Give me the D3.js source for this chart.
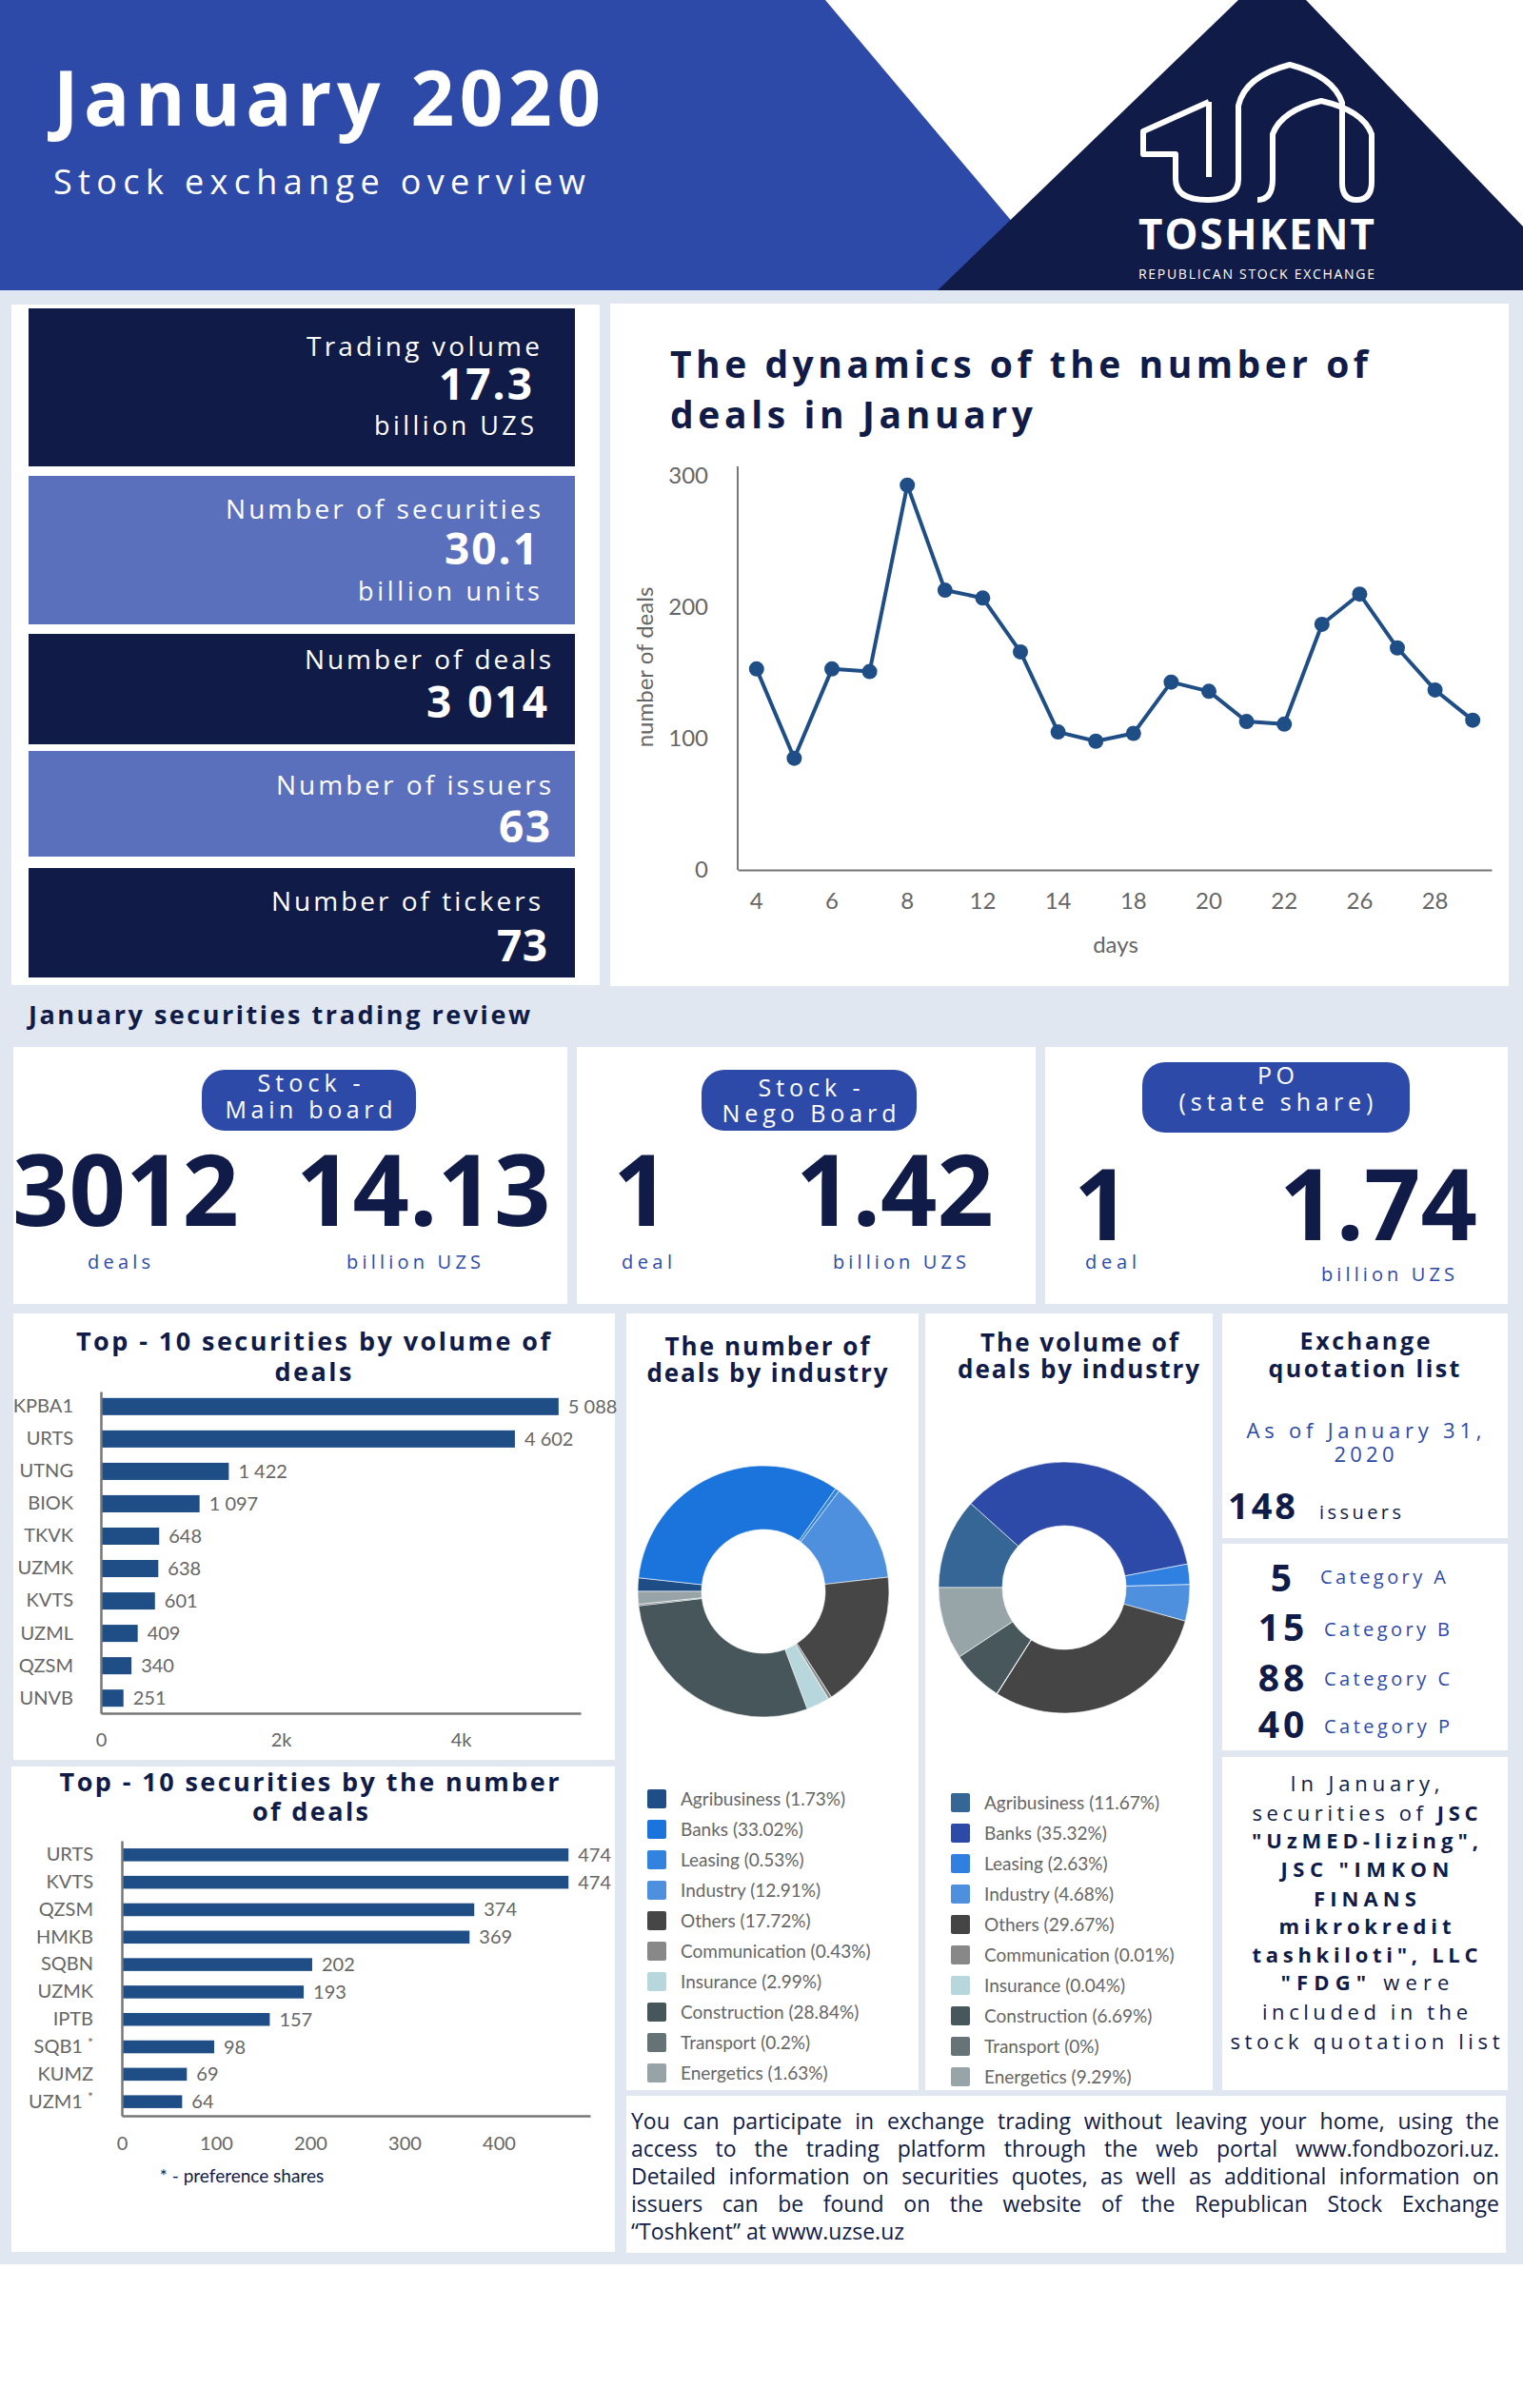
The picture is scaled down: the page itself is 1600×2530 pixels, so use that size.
<!DOCTYPE html>
<html>
<head>
<meta charset="utf-8">
<script src="https://cdn.jsdelivr.net/npm/d3@7"></script>
<style>
  html, body { margin: 0; padding: 0; background: #ffffff; }
  svg { display: block; }
</style>
</head>
<body>
<script>
// ---------------- DATA ----------------
const kpiLabels = ["Trading volume", "Number of securities", "Number of deals", "Number of issuers", "Number of tickers"];
const kpiValues = ["17.3", "30.1", "3 014", "63", "73"];
const kpiUnits = ["billion UZS", "billion units", "", "", ""];

const days = [4, 5, 6, 7, 8, 10, 12, 13, 14, 15, 18, 19, 20, 21, 22, 24, 26, 27, 28, 29];
const dealsPerDay = [153, 85, 153, 151, 293, 213, 207, 166, 105, 98, 104, 143, 136, 113, 111, 187, 210, 169, 137, 114];
const dealTicks = [0, 100, 200, 300];

const boardNames = [["Stock -", "Main board"], ["Stock -", "Nego Board"], ["PO", "(state share)"]];
const boardDeals = ["3012", "1", "1"];
const boardVolumes = ["14.13", "1.42", "1.74"];
const boardDealUnits = ["deals", "deal", "deal"];
const boardVolumeUnit = "billion UZS";

const volTickers = ["KPBA1", "URTS", "UTNG", "BIOK", "TKVK", "UZMK", "KVTS", "UZML", "QZSM", "UNVB"];
const volValues = [5088, 4602, 1422, 1097, 648, 638, 601, 409, 340, 251];
const volTicks = [0, 2000, 4000];

const dealTickers = ["URTS", "KVTS", "QZSM", "HMKB", "SQBN", "UZMK", "IPTB", "SQB1 *", "KUMZ", "UZM1 *"];
const dealCounts = [474, 474, 374, 369, 202, 193, 157, 98, 69, 64];
const dealCountTicks = [0, 100, 200, 300, 400];

const industries = ["Agribusiness", "Banks", "Leasing", "Industry", "Others", "Communication", "Insurance", "Construction", "Transport", "Energetics"];
const dealShares = [1.73, 33.02, 0.53, 12.91, 17.72, 0.43, 2.99, 28.84, 0.2, 1.63];
const volumeShares = [11.67, 35.32, 2.63, 4.68, 29.67, 0.01, 0.04, 6.69, 0, 9.29];
const dealColors = ["#1f4e87", "#1b74db", "#3282e0", "#4f90de", "#464646", "#888888", "#b7d7dc", "#47565a", "#657377", "#97a3a6"];
const volumeColors = ["#366696", "#2d4aa8", "#2f80e0", "#4f90de", "#454545", "#888888", "#b7d7dc", "#48575b", "#667477", "#98a5a8"];

const quoteIssuers = "148";
const quoteCategories = ["A", "B", "C", "P"];
const quoteCounts = ["5", "15", "88", "40"];
const quoteNote = [
  [["In January,", 0]],
  [["securities of ", 0], ["JSC", 1]],
  [["\"UzMED-lizing\",", 1]],
  [["JSC \"IMKON", 1]],
  [["FINANS", 1]],
  [["mikrokredit", 1]],
  [["tashkiloti\", LLC", 1]],
  [["\"FDG\"", 1], [" were", 0]],
  [["included in the", 0]],
  [["stock quotation list", 0]]
];
const paragraph = [
  "You can participate in exchange trading without leaving your home, using the",
  "access to the trading platform through the web portal www.fondbozori.uz.",
  "Detailed information on securities quotes, as well as additional information on",
  "issuers can be found on the website of the Republican Stock Exchange",
  "\u201cToshkent\u201d at www.uzse.uz"
];

// ---------------- STYLE ----------------
const NAVY = "#101b47", BLUE = "#2d4aa8", LIGHT = "#5b70bc", BG = "#e0e7f1", BAR = "#1f4e87", GRAY = "#666666", AXIS = "#777777";
const OS = "'Open Sans', 'Noto Sans', sans-serif";
const LATO = "Lato, 'Open Sans', sans-serif";

const svg = d3.select("body").append("svg").attr("width", 1600).attr("height", 2530);

function fit(t, W, anchor) {
  t.attr("letter-spacing", 0);
  const w = t.node().getComputedTextLength();
  const n = t.text().length;
  const ls = (W - w) / Math.max(1, n - 1);
  t.attr("letter-spacing", ls.toFixed(2));
  if (anchor === "end") t.attr("dx", ls.toFixed(2));
  else if (anchor === "middle") t.attr("dx", (ls / 2).toFixed(2));
  return t;
}
function T(p, x, y, s, o = {}) {
  const a = o.a || "start";
  const t = p.append("text").attr("x", x).attr("y", y)
    .attr("font-family", o.f || OS).attr("font-size", o.s || 20)
    .attr("font-weight", o.w || 400).attr("fill", o.c || NAVY)
    .attr("text-anchor", a).text(s);
  if (o.fit) fit(t, o.fit, a);
  else if (o.ls) t.attr("letter-spacing", o.ls);
  return t;
}
function panel(x0, y0, x1, y1, fill) {
  svg.append("rect").attr("x", x0).attr("y", y0).attr("width", x1 - x0).attr("height", y1 - y0).attr("fill", fill || "#fff");
}

// ---------------- HEADER ----------------
svg.append("polygon").attr("points", "0,0 867,0 1124,305 0,305").attr("fill", BLUE);
svg.append("polygon").attr("points", "1301,0 1372,0 1600,238 1600,305 985,305").attr("fill", NAVY);
T(svg, 56, 132, "January 2020", { s: 80, w: 700, c: "#fff", fit: 575 });
T(svg, 56, 204, "Stock exchange overview", { s: 36, c: "#fff", fit: 559 });

const logo = svg.append("g").attr("transform", "translate(1196,66)")
  .attr("fill", "none").attr("stroke", "#fff").attr("stroke-width", 6).attr("stroke-linejoin", "round");
logo.append("path").attr("d", "M74,41 L5,72 L5,96 L39,96 L39,122 Q39,144 72,144 Q105,144 105,122 L105,45 Q112,14 159,2 Q205,14 214,42 L214,126");
logo.append("path").attr("d", "M74,41 L74,120");
logo.append("path").attr("d", "M125,144 Q141,144 141,122 L141,75 Q150,50 192,40 Q236,50 245,75 L245,125 Q245,144 229,144 Q214,144 214,126");
T(svg, 1320, 262, "TOSHKENT", { s: 44, w: 700, c: "#fff", a: "middle", fit: 248 });
T(svg, 1320, 293, "REPUBLICAN STOCK EXCHANGE", { s: 14, c: "#fff", a: "middle", fit: 248 });

// ---------------- BODY BG ----------------
svg.append("rect").attr("x", 0).attr("y", 305).attr("width", 1600).attr("height", 2379 - 305).attr("fill", BG);

// ---------------- KPI ----------------
panel(12, 320, 630, 1035);
const kpiBoxes = [[324, 490], [500, 656], [666, 782], [789, 900], [912, 1027]];
const kpiLabelPos = [[567, 374, 245], [568, 545, 331], [579, 703, 259], [579, 835, 289], [568, 957, 283]];
const kpiValuePos = [[559, 420, 98], [565, 593, 98], [575, 754, 127], [578, 885, 54], [575, 1010, 53]];
const kpiUnitPos = [[561, 457, 168], [567, 631, 191], null, null, null];
kpiLabels.forEach((lab, i) => {
  const [y0, y1] = kpiBoxes[i];
  panel(30, y0, 604, y1, i % 2 ? LIGHT : NAVY);
  T(svg, kpiLabelPos[i][0], kpiLabelPos[i][1], lab, { s: 28, c: "#fff", a: "end", fit: kpiLabelPos[i][2] });
  T(svg, kpiValuePos[i][0], kpiValuePos[i][1], kpiValues[i], { s: 46, w: 700, c: "#fff", a: "end", fit: kpiValuePos[i][2] });
  if (kpiUnits[i]) T(svg, kpiUnitPos[i][0], kpiUnitPos[i][1], kpiUnits[i], { s: 27, c: "#fff", a: "end", fit: kpiUnitPos[i][2] });
});

// ---------------- LINE CHART ----------------
panel(641, 319, 1585, 1036);
T(svg, 704, 397, "The dynamics of the number of", { s: 39, w: 700, fit: 733 });
T(svg, 704, 450, "deals in January", { s: 39, w: 700, fit: 381 });

const lx = d3.scaleBand().domain(days).range([775, 1567]);
const ly = d3.scaleLinear().domain([0, 300]).range([914, 500]);
const lc = (d) => lx(d) + lx.bandwidth() / 2;

const yAx = svg.append("g").attr("transform", "translate(775,0)")
  .call(d3.axisLeft(ly).tickValues(dealTicks).tickSize(0).tickSizeOuter(0).tickPadding(31));
yAx.select(".domain").attr("d", `M0,${ly(0)}V${ly(300) - 10}`).attr("stroke", AXIS).attr("stroke-width", 2);
yAx.selectAll("text").attr("font-family", LATO).attr("font-size", 24).attr("fill", GRAY);

const xAx = svg.append("g").attr("transform", `translate(0,${ly(0)})`)
  .call(d3.axisBottom(lx).tickValues(days.filter((d, i) => i % 2 === 0)).tickSize(0).tickSizeOuter(0).tickPadding(24));
xAx.select(".domain").attr("stroke", AXIS).attr("stroke-width", 2);
xAx.selectAll("text").attr("font-family", LATO).attr("font-size", 24).attr("fill", GRAY);

T(svg, 1172, 1001, "days", { f: LATO, s: 24, c: GRAY, a: "middle" });
T(svg, 0, 0, "number of deals", { f: LATO, s: 24, c: GRAY, a: "middle" })
  .attr("transform", "translate(686,701) rotate(-90)");

const lineGen = d3.line().x((d, i) => lc(days[i])).y((d) => ly(d));
svg.append("path").datum(dealsPerDay).attr("d", lineGen)
  .attr("fill", "none").attr("stroke", BAR).attr("stroke-width", 4).attr("stroke-linejoin", "round");
svg.append("g").selectAll("circle").data(dealsPerDay).join("circle")
  .attr("cx", (d, i) => lc(days[i])).attr("cy", (d) => ly(d)).attr("r", 8).attr("fill", BAR);

// ---------------- TRADING REVIEW ----------------
T(svg, 30, 1076, "January securities trading review", { s: 27, w: 700, fit: 527 });
const rPanels = [[14, 596], [606, 1088], [1098, 1584]];
const pills = [[212, 437, 1124, 1188], [737, 963, 1124, 1188], [1200, 1481, 1116, 1190]];
const pillLines = [[[1147, 108], [1175, 176]], [[1152, 107], [1179, 183]], [[1139, 39], [1167, 204]]];
const numPos = [[[13, 1288], [311, 1288]], [[644, 1288], [836, 1288]], [[1128, 1303], [1344, 1303]]];
const unitPos = [[[92, 1333, 66], [364, 1333, 141]], [[653, 1333, 53], [875, 1333, 140]], [[1140, 1333, 54], [1388, 1346, 140]]];
boardNames.forEach((names, i) => {
  panel(rPanels[i][0], 1100, rPanels[i][1], 1370);
  const [px0, px1, py0, py1] = pills[i];
  svg.append("rect").attr("x", px0).attr("y", py0).attr("width", px1 - px0).attr("height", py1 - py0)
    .attr("rx", 24).attr("ry", 24).attr("fill", BLUE);
  const cx = (px0 + px1) / 2;
  names.forEach((nm, j) => T(svg, cx, pillLines[i][j][0], nm, { s: 25, c: "#fff", a: "middle", fit: pillLines[i][j][1] }));
  T(svg, numPos[i][0][0], numPos[i][0][1], boardDeals[i], { s: 104, w: 700, c: NAVY });
  T(svg, numPos[i][1][0], numPos[i][1][1], boardVolumes[i], { s: 104, w: 700, c: NAVY });
  T(svg, unitPos[i][0][0], unitPos[i][0][1], boardDealUnits[i], { s: 20, c: BLUE, fit: unitPos[i][0][2] });
  T(svg, unitPos[i][1][0], unitPos[i][1][1], boardVolumeUnit, { s: 20, c: BLUE, fit: unitPos[i][1][2] });
});

// ---------------- BAR CHARTS ----------------
const numFmt = d3.formatLocale({ decimal: ".", thousands: "\u00a0", grouping: [3], currency: ["", ""] }).format(",");

function barChart(o) {
  panel(o.panel[0], o.panel[1], o.panel[2], o.panel[3]);
  o.title.forEach((t) => T(svg, t[0], t[1], t[2], { s: 27, w: 700, a: "middle", fit: t[3] }));
  const x = d3.scaleLinear().domain([0, o.max]).range(o.xr);
  const y = d3.scaleBand().domain(o.cats).range(o.yr).paddingInner(o.pi).paddingOuter(o.po);
  svg.append("g").selectAll("rect").data(o.vals).join("rect")
    .attr("x", x(0)).attr("y", (d, i) => y(o.cats[i]))
    .attr("width", (d) => x(d) - x(0)).attr("height", y.bandwidth()).attr("fill", BAR);
  svg.append("g").selectAll("text").data(o.vals).join("text")
    .attr("x", (d) => x(d) + 10).attr("y", (d, i) => y(o.cats[i]) + y.bandwidth() / 2)
    .attr("dy", "0.35em").attr("font-family", LATO).attr("font-size", 20).attr("fill", GRAY)
    .text((d) => numFmt(d));
  const ya = svg.append("g").attr("transform", `translate(${x(0)},0)`)
    .call(d3.axisLeft(y).tickSize(0).tickSizeOuter(0).tickPadding(o.lpad));
  ya.select(".domain").attr("stroke", AXIS).attr("stroke-width", 2.5);
  ya.selectAll("text").attr("font-family", LATO).attr("font-size", 20).attr("fill", GRAY)
    .each(function (d) {
      if (String(d).includes("*")) {
        const s = d3.select(this);
        s.text(String(d).replace(" *", " "));
        s.append("tspan").attr("font-size", 14).attr("dy", "-0.45em").text("*");
      }
    });
  const xa = svg.append("g").attr("transform", `translate(0,${o.yr[1]})`)
    .call(d3.axisBottom(x).tickValues(o.ticks).tickFormat(d3.format("~s")).tickSize(0).tickSizeOuter(0).tickPadding(o.tpad));
  xa.select(".domain").attr("stroke", AXIS).attr("stroke-width", 2.5);
  xa.selectAll("text").attr("font-family", LATO).attr("font-size", 20).attr("fill", GRAY);
}

barChart({
  panel: [14, 1380, 646, 1849],
  title: [[329, 1419, "Top - 10 securities by volume of", 498], [329, 1451, "deals", 81]],
  cats: volTickers, vals: volValues, max: 5333, xr: [106, 610], yr: [1462, 1800], pi: 0.47, po: 0.2,
  ticks: volTicks, lpad: 29, tpad: 21
});
barChart({
  panel: [12, 1856, 646, 2366],
  title: [[325, 1882, "Top - 10 securities by the number", 525], [326, 1913, "of deals", 122]],
  cats: dealTickers, vals: dealCounts, max: 497, xr: [128, 620], yr: [1934, 2223], pi: 0.53, po: 0.28,
  ticks: dealCountTicks, lpad: 30, tpad: 22
});
T(svg, 254, 2293, "* - preference shares", { f: LATO, s: 19, c: NAVY, a: "middle" });

// ---------------- DONUTS ----------------
function donut(o) {
  panel(o.panel[0], 1380, o.panel[1], 2196);
  o.title.forEach((t) => T(svg, t[0], t[1], t[2], { s: 26, w: 700, a: "middle", fit: t[3] }));
  const pie = d3.pie().sort(null).startAngle(-Math.PI / 2).endAngle(1.5 * Math.PI);
  const arc = d3.arc().innerRadius(65).outerRadius(132);
  svg.append("g").attr("transform", `translate(${o.cx},${o.cy})`)
    .selectAll("path").data(pie(o.shares)).join("path")
    .attr("d", arc).attr("fill", (d, i) => o.colors[i])
    .attr("stroke", "#fff").attr("stroke-width", (d) => d.value > 0 ? 0.6 : 0);
  const lg = svg.append("g");
  industries.forEach((name, i) => {
    lg.append("rect").attr("x", o.lx).attr("y", o.ly + i * 32).attr("width", 20).attr("height", 20)
      .attr("rx", 2).attr("fill", o.colors[i]);
    T(lg, o.lx + 35, o.ly + 17 + i * 32, `${name} (${o.shares[i]}%)`, { f: LATO, s: 19, c: GRAY });
  });
}
donut({
  panel: [658, 965], cx: 802, cy: 1672, shares: dealShares, colors: dealColors, lx: 680, ly: 1880,
  title: [[806, 1424, "The number of", 215], [806, 1452, "deals by industry", 253]]
});
donut({
  panel: [972, 1274], cx: 1118, cy: 1668, shares: volumeShares, colors: volumeColors, lx: 999, ly: 1884,
  title: [[1134, 1420, "The volume of", 208], [1133, 1448, "deals by industry", 254]]
});

// ---------------- QUOTATION LIST ----------------
panel(1284, 1380, 1584, 1616);
panel(1284, 1622, 1584, 1839);
panel(1284, 1846, 1584, 2196);
T(svg, 1434, 1418, "Exchange", { s: 25, w: 700, a: "middle", fit: 137 });
T(svg, 1433, 1447, "quotation list", { s: 25, w: 700, a: "middle", fit: 201 });
T(svg, 1433, 1511, "As of January 31,", { s: 22, c: BLUE, a: "middle", fit: 247 });
T(svg, 1433, 1536, "2020", { s: 22, c: BLUE, a: "middle", fit: 63 });
T(svg, 1290, 1596, quoteIssuers, { s: 38, w: 700, fit: 71 });
T(svg, 1386, 1596, "issuers", { s: 20, fit: 86 });
const qNumY = [1672, 1724, 1777, 1826];
const qCatY = [1664, 1719, 1771, 1821];
quoteCounts.forEach((c, i) => {
  T(svg, 1348, qNumY[i], c, { s: 39, w: 700, a: "middle", ls: 4 });
  T(svg, i === 0 ? 1387 : 1391, qCatY[i], "Category " + quoteCategories[i], { s: 20, c: BLUE, fit: 132 });
});
const noteY = [1882, 1913, 1942, 1972, 2003, 2032, 2062, 2091, 2122, 2153];
const noteW = [157, 237, 238, 177, 108, 181, 237, 177, 216, 283];
quoteNote.forEach((segs, i) => {
  const t = svg.append("text").attr("x", 1434).attr("y", noteY[i]).attr("text-anchor", "middle")
    .attr("font-family", OS).attr("font-size", 22).attr("fill", NAVY).style("white-space", "pre");
  segs.forEach((s) => t.append("tspan").attr("font-weight", s[1] ? 700 : 400).text(s[0]));
  fit(t, noteW[i], "middle");
});

// ---------------- PARAGRAPH ----------------
panel(658, 2202, 1582, 2367);
const paraX0 = 663, paraX1 = 1575;
const paraY = [2237, 2266, 2295, 2324, 2353];
paragraph.forEach((line, i) => {
  const g = svg.append("text").attr("y", paraY[i]).attr("font-family", OS).attr("font-size", 23).attr("fill", NAVY);
  const words = line.split(" ");
  if (i === paragraph.length - 1) {
    g.attr("x", paraX0).text(line);
    return;
  }
  const widths = words.map((w) => {
    const tmp = svg.append("text").attr("font-family", OS).attr("font-size", 23).text(w);
    const ww = tmp.node().getComputedTextLength();
    tmp.remove();
    return ww;
  });
  const gap = (paraX1 - paraX0 - d3.sum(widths)) / (words.length - 1);
  let x = paraX0;
  words.forEach((w, k) => {
    g.append("tspan").attr("x", x.toFixed(1)).text(w);
    x += widths[k] + gap;
  });
});
</script>
</body>
</html>
